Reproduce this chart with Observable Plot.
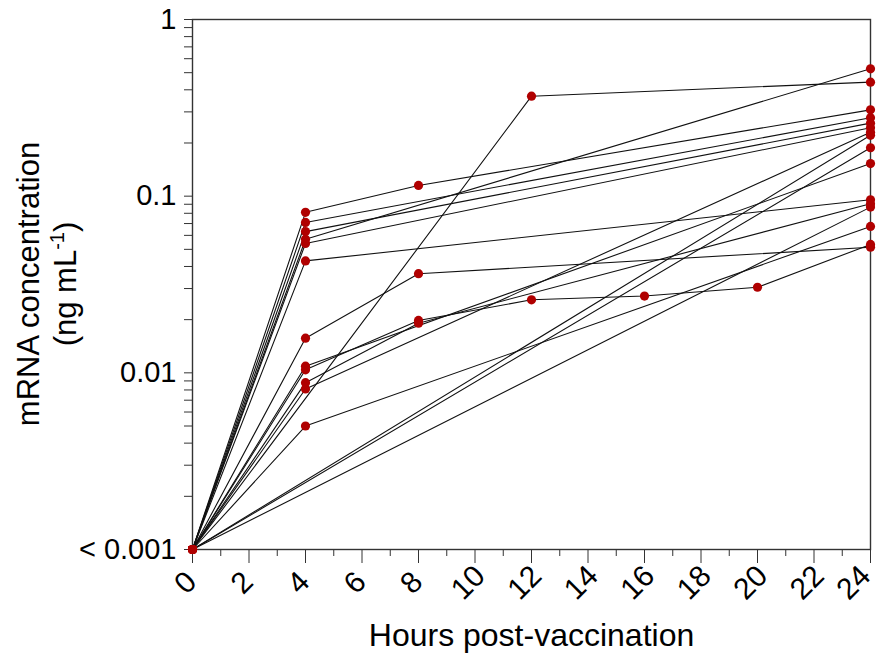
<!DOCTYPE html>
<html><head><meta charset="utf-8">
<script src="https://cdn.jsdelivr.net/npm/d3@7"></script>
<script src="https://cdn.jsdelivr.net/npm/@observablehq/plot@0.6"></script>
<style>body{margin:0;background:#fff}</style>
</head><body><div id="chart"></div>
<script>
// One entry per subject: sampling hours and mRNA concentration (ng/mL); 0.001 = "<0.001"
const subjectIds = [1,2,3,4,5,6,7,8,9,10,11,12,13,14,15,16];
const subjectHours = [
  [0,4,8,24],
  [0,4,24],
  [0,4,24],
  [0,4,24],
  [0,4,24],
  [0,4,24],
  [0,4,8,24],
  [0,4,24],
  [0,4,8,12,16,20,24],
  [0,4,8,24],
  [0,4,24],
  [0,4,24],
  [0,12,24],
  [0,24],
  [0,24],
  [0,24]
];
const subjectValues = [
  [0.001,0.081,0.115,0.308],
  [0.001,0.071,0.278],
  [0.001,0.063,0.259],
  [0.001,0.057,0.526],
  [0.001,0.054,0.244],
  [0.001,0.043,0.0954],
  [0.001,0.0157,0.0364,0.0514],
  [0.001,0.0109,0.153],
  [0.001,0.0104,0.0198,0.0259,0.0272,0.0305,0.0533],
  [0.001,0.0088,0.0191,0.0906],
  [0.001,0.0081,0.230],
  [0.001,0.0050,0.0674],
  [0.001,0.368,0.442],
  [0.001,0.221],
  [0.001,0.188],
  [0.001,0.0867]
];
const yMajorTicks = [0.001,0.01,0.1,1];
const yMajorLabels = ["< 0.001","0.01","0.1","1"];
const yMinorTicks = [0.002,0.003,0.004,0.005,0.006,0.007,0.008,0.009,
                     0.02,0.03,0.04,0.05,0.06,0.07,0.08,0.09,
                     0.2,0.3,0.4,0.5,0.6,0.7,0.8,0.9];
const xMajorTicks = [0,2,4,6,8,10,12,14,16,18,20,22,24];
const xMinorTicks = [1,3,5,7,9,11,13,15,17,19,21,23];
const xTitle = "Hours post-vaccination";
const yTitle1 = "mRNA concentration";

const rows = [];
subjectIds.forEach((id, i) => {
  subjectHours[i].forEach((h, j) => rows.push({subject: id, hour: h, value: subjectValues[i][j]}));
});
const yLabelMap = new Map(yMajorTicks.map((t, i) => [t, yMajorLabels[i]]));
const xLabelsInner = xMajorTicks.filter(d => d < 24);
const xLabelsLast = xMajorTicks.filter(d => d === 24);

const chart = Plot.plot({
  width: 879, height: 661,
  marginLeft: 192, marginTop: 19, marginRight: 9, marginBottom: 112,
  style: {fontFamily: "'Liberation Sans', Arial, sans-serif", fontSize: "29px", color: "#000", background: "#fff"},
  x: {domain: [0, 24]},
  y: {type: "log", domain: [0.001, 1]},
  marks: [
    Plot.axisY({ticks: yMinorTicks, tickSize: 8, tickFormat: () => "", stroke: "#333", label: null}),
    Plot.axisY({ticks: yMajorTicks, tickSize: 8, tickPadding: 8, tickFormat: d => yLabelMap.get(d), stroke: "#333", fill: "#000", fontSize: 29, label: null}),
    Plot.axisX({ticks: xMajorTicks, tickSize: 14, tickFormat: () => "", stroke: "#333", label: null}),
    Plot.axisX({ticks: xMinorTicks, tickSize: 7, tickFormat: () => "", stroke: "#333", label: null}),
    Plot.text(xLabelsInner, {x: d => d, text: d => String(d), frameAnchor: "bottom", dy: 40, rotate: -45, textAnchor: "middle", fontSize: 30, fill: "#000"}),
    Plot.text(xLabelsLast, {x: d => d, text: d => String(d), frameAnchor: "bottom", dy: 40, dx: -10, rotate: -45, textAnchor: "middle", fontSize: 30, fill: "#000"}),
    Plot.text([xTitle], {text: d => d, frameAnchor: "bottom", dy: 96, fontSize: 32, fill: "#000"}),
    Plot.line(rows, {x: "hour", y: "value", z: "subject", stroke: "#111", strokeWidth: 1.1}),
    Plot.frame({stroke: "#333", strokeWidth: 1.4}),
    Plot.dot(rows, {x: "hour", y: "value", r: 4.6, fill: "#b00000"})
  ]
});
document.getElementById("chart").appendChild(chart);

// Two-line rotated y-axis title with superscript
const svg = d3.select(chart);
const g = svg.append("g").attr("font-family", "'Liberation Sans', Arial, sans-serif").attr("font-size", 31).attr("fill", "#000");
g.append("text").attr("transform", "translate(39,284) rotate(-90)").attr("text-anchor", "middle").text(yTitle1);
const t2 = g.append("text").attr("transform", "translate(76,284) rotate(-90)").attr("text-anchor", "middle");
t2.append("tspan").text("(ng mL");
t2.append("tspan").attr("font-size", 20).attr("dy", -12).text("-1");
t2.append("tspan").attr("dy", 12).text(")");
</script>
</body></html>
